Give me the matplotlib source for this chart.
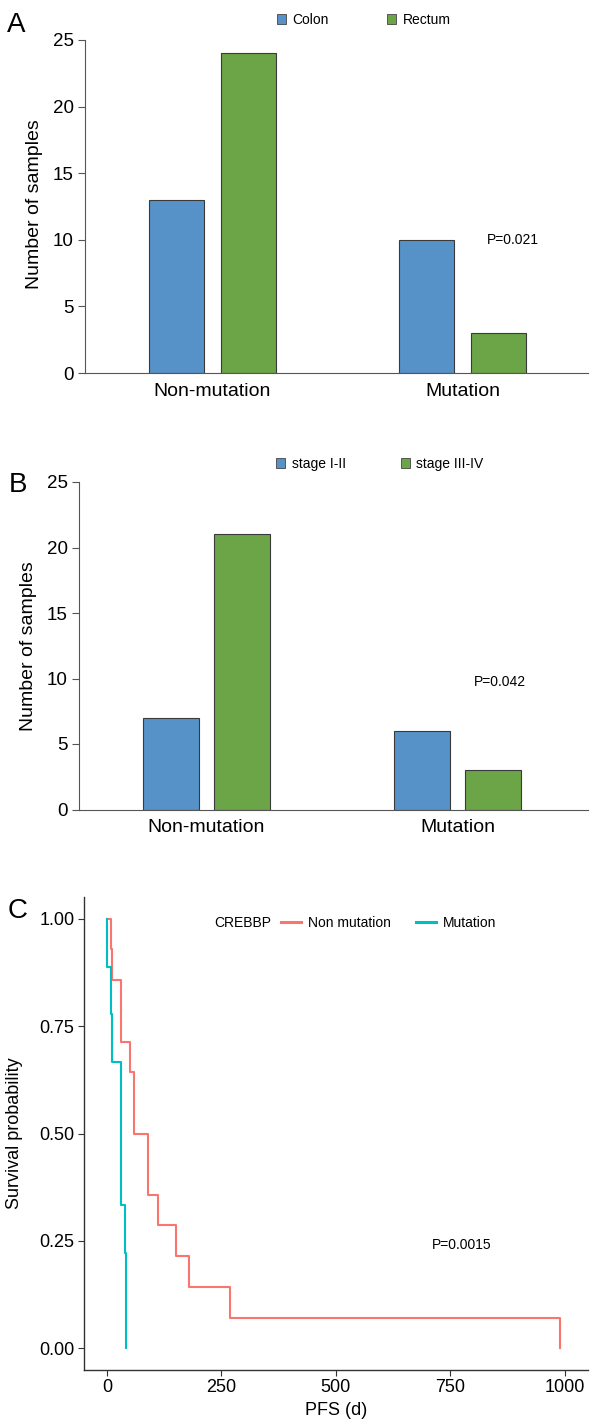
import matplotlib
matplotlib.use('Agg')
import matplotlib.pyplot as plt
from matplotlib.patches import Patch
from matplotlib.lines import Line2D

plt.rcParams['font.family'] = ['Liberation Sans', 'DejaVu Sans']

# ------------------- DATA ----------------
groups = ['Non-mutation', 'Mutation']
site_labels = ['Colon', 'Rectum']
colon = [13, 10]
rectum = [24, 3]
p_site = 'P=0.021'

stage_labels = ['stage I-II', 'stage III-IV']
stage_early = [7, 6]
stage_late = [21, 3]
p_stage = 'P=0.042'

# Kaplan-Meier steps (days, survival)
km_non_t = [0, 9, 12, 30, 51, 60, 90, 112, 151, 180, 270, 990]
km_non_s = [1.0, 0.929, 0.857, 0.714, 0.643, 0.5, 0.357, 0.286, 0.214, 0.143, 0.071, 0.0]
km_mut_t = [0, 1, 9, 11, 30, 40, 41]
km_mut_s = [1.0, 0.889, 0.778, 0.667, 0.333, 0.222, 0.0]
km_labels = ['Non mutation', 'Mutation']
p_km = 'P=0.0015'

BLUE, GREEN = '#5692C8', '#6BA547'
RED, CYAN = '#F8766D', '#00BFC4'
W, H = 592, 1421


def rect(x0, x1, ytop, ybot):
    return [x0/W, 1 - ybot/H, (x1 - x0)/W, (ybot - ytop)/H]


fig = plt.figure(figsize=(W/100, H/100), dpi=100)


def bar_panel(r, xlim, w, off, a, b, ptext, pxy, ylab_x, ylab_frac):
    ax = fig.add_axes(r)
    x = list(range(len(groups)))
    ax.bar([i - off for i in x], a, width=w, color=BLUE, edgecolor='#3a3a3a', linewidth=0.8)
    ax.bar([i + off for i in x], b, width=w, color=GREEN, edgecolor='#3a3a3a', linewidth=0.8)
    ax.set_xlim(*xlim)
    ax.set_ylim(0, 25)
    ax.set_yticks([0, 5, 10, 15, 20, 25])
    ax.set_xticks(x)
    ax.set_xticklabels(groups, fontsize=14)
    ax.tick_params(axis='x', length=0, pad=7)
    ax.tick_params(axis='y', length=5, width=0.8, color='#555555', labelsize=13.5, pad=3)
    for s in ['top', 'right']:
        ax.spines[s].set_visible(False)
    for s in ['left', 'bottom']:
        ax.spines[s].set_color('#555555')
        ax.spines[s].set_linewidth(0.8)
    ax.spines['left'].set_bounds(0, 25)
    ax.text(pxy[0], pxy[1], ptext, fontsize=10, ha='center', va='center')
    ax.set_ylabel('Number of samples', fontsize=14)
    pos = ax.get_position()
    ax.yaxis.set_label_coords(ylab_x/W, pos.y0 + ylab_frac*pos.height,
                              transform=fig.transFigure)
    return ax


# ---------------- A ----------------
axA = bar_panel(rect(85, 588, 40, 373), (-0.51, 1.502), 0.22, 0.144,
                colon, rectum, p_site, (1.2, 10.0), 43, 0.506)
fig.legend([Patch(fc=BLUE, ec='#444444', lw=0.6), Patch(fc=GREEN, ec='#444444', lw=0.6)],
           site_labels, loc='center', bbox_to_anchor=(364/W, 1 - 20/H), ncol=2,
           frameon=False, fontsize=10, handlelength=0.65, handleheight=0.65,
           handletextpad=0.45, columnspacing=4.2)
fig.text(7/W, 1 - 25/H, 'A', fontsize=20, ha='left', va='center')

# ---------------- B ----------------
axB = bar_panel(rect(79, 588, 482, 809.5), (-0.508, 1.52), 0.223, 0.142,
                stage_early, stage_late, p_stage, (1.17, 9.75), 37, 0.5)
fig.legend([Patch(fc=BLUE, ec='#444444', lw=0.6), Patch(fc=GREEN, ec='#444444', lw=0.6)],
           stage_labels, loc='center', bbox_to_anchor=(380/W, 1 - 464/H), ncol=2,
           frameon=False, fontsize=10, handlelength=0.65, handleheight=0.65,
           handletextpad=0.45, columnspacing=4.0)
fig.text(9/W, 1 - 485/H, 'B', fontsize=20, ha='left', va='center')

# ---------------- C ----------------
axC = fig.add_axes(rect(84, 588, 897.5, 1369.5))
axC.step(km_non_t, km_non_s, where='post', color=RED, lw=1.5)
axC.step(km_mut_t, km_mut_s, where='post', color=CYAN, lw=1.5)
axC.set_xlim(-50, 1051)
axC.set_ylim(-0.05, 1.05)
axC.set_xticks([0, 250, 500, 750, 1000])
axC.set_yticks([0, 0.25, 0.5, 0.75, 1.0])
axC.set_yticklabels(['0.00', '0.25', '0.50', '0.75', '1.00'])
axC.tick_params(length=4, width=0.8, color='#333333', labelsize=13, pad=3)
for s in ['top', 'right']:
    axC.spines[s].set_visible(False)
for s in ['left', 'bottom']:
    axC.spines[s].set_color('#333333')
    axC.spines[s].set_linewidth(1.0)
axC.set_xlabel('PFS (d)', fontsize=13, labelpad=4)
axC.set_ylabel('Survival probability', fontsize=13)
axC.yaxis.set_label_coords(23/W, 1 - 1133/H, transform=fig.transFigure)
axC.text(775, 0.24, p_km, fontsize=10, ha='center', va='center')
axC.legend([Line2D([], [], color=RED, lw=2.2), Line2D([], [], color=CYAN, lw=2.2)], km_labels,
           loc='center', bbox_to_anchor=(389/W, 1 - 923/H), bbox_transform=fig.transFigure,
           ncol=2, frameon=False, fontsize=10, handlelength=1.45, handletextpad=0.5,
           columnspacing=1.8)
fig.text(214/W, 1 - 923/H, 'CREBBP', fontsize=10, ha='left', va='center')
fig.text(8/W, 1 - 911/H, 'C', fontsize=20, ha='left', va='center')

fig.savefig('out.png', dpi=100)
